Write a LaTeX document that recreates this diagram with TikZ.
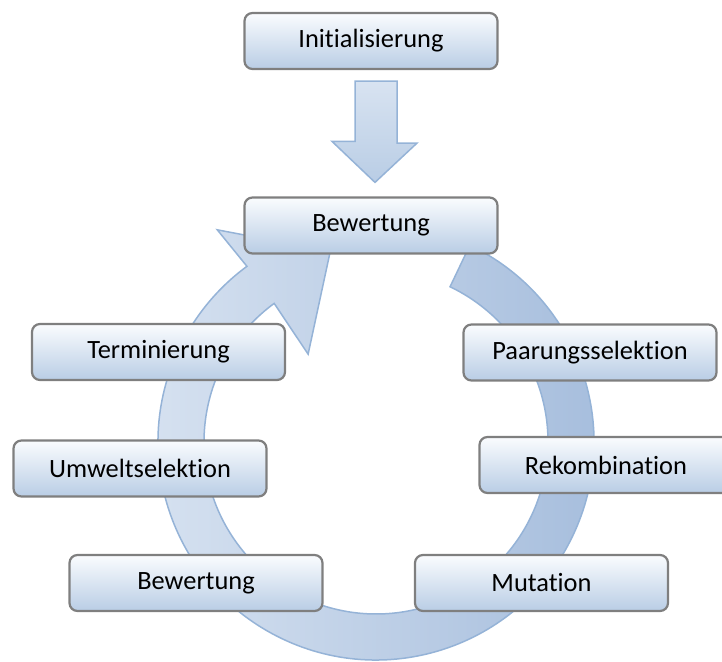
\documentclass[tikz,border=0pt]{standalone}
\usepackage{fontspec}
\setmainfont[Ligatures=NoCommon]{Carlito}
\definecolor{rahmen}{HTML}{7F7F7F}
\definecolor{boxoben}{HTML}{FAFCFE}
\definecolor{boxunten}{HTML}{B9CDE5}
\definecolor{pfeilrand}{HTML}{95B3D7}
\definecolor{ringhell}{HTML}{D8E3F1}
\definecolor{ringdunkel}{HTML}{A4BCDC}

\begin{document}
\begin{tikzpicture}[x=1pt,y=1pt,
  kasten/.style={draw=rahmen, line width=2.2pt, rounded corners=8pt,
    top color=boxoben, bottom color=boxunten,
    minimum width=253pt, minimum height=56pt, inner sep=0pt,
    font=\fontsize{26.4}{30}\selectfont},
  blockpfeil/.style={draw=pfeilrand, line width=1.5pt, line join=miter,
    top color=ringhell, bottom color=boxunten},
  ring/.style={draw=pfeilrand, line width=1.5pt, line join=miter,
    left color=ringhell, right color=ringdunkel}]
  \useasboundingbox (0,0) rectangle (722,661);
  \coordinate (ringc) at (376,219);
  \begin{scope}[shift={(ringc)}]
    \draw[ring] (64.5:218) arc[start angle=64.5, end angle=-233.7, radius=218]
      -- (-233.2:265) -- (-256.5:196) -- (-232.3:111) -- (-233.7:172)
      arc[start angle=-233.7, end angle=64.5, radius=172] -- cycle;
  \end{scope}
  \node[kasten] (init) at (371,620) {Initialisierung};
  \node[kasten] (bewA) at (371,435.5) {Bewertung};
  \node[kasten] (term) at (158.5,309) {Terminierung};
  \node[kasten] (umwelt) at (140,192.5) {Umweltselektion};
  \node[kasten] (bewB) at (196,78) {Bewertung};
  \node[kasten] (paar) at (590,308.5) {Paarungsselektion};
  \node[kasten] (rekomb) at (606,196) {Rekombination};
  \node[kasten] (mut) at (541.5,78) {Mutation};
  \draw[blockpfeil] ([xshift=-16pt,yshift=-11pt]init.south) -- ++(42,0) -- ++(0,-62)
    -- ++(20,0) -- ([xshift=4pt,yshift=14pt]bewA.north) -- ++(-43,41) -- ++(23,0) -- cycle;
\end{tikzpicture}
\end{document}
